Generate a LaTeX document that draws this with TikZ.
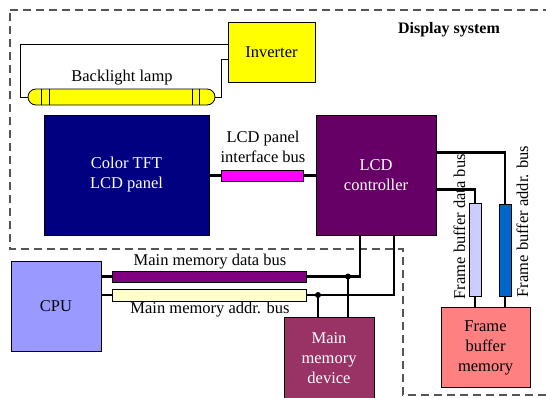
\documentclass[tikz,border=0pt]{standalone}
\usepackage{fontspec}
\setmainfont{Liberation Serif}
\usetikzlibrary{calc}

\definecolor{panelblue}{HTML}{000080}
\definecolor{ctrlpurple}{HTML}{660066}
\definecolor{ifbuscol}{HTML}{FF00FF}
\definecolor{lampcol}{HTML}{FFFF00}
\definecolor{fbdatacol}{HTML}{CCCCFF}
\definecolor{fbaddrcol}{HTML}{0066CC}
\definecolor{fbmemcol}{HTML}{FF8080}
\definecolor{cpucol}{HTML}{9999FF}
\definecolor{mdatacol}{HTML}{800080}
\definecolor{maddrcol}{HTML}{FFFFCC}
\definecolor{mmdevcol}{HTML}{993366}
\definecolor{dashgray}{HTML}{555555}

\begin{document}
\begin{tikzpicture}[x=1pt, y=-1pt,
    blockbox/.style={draw, line width=0.8pt, inner sep=0pt, align=center,
        font=\fontsize{16.5}{20}\selectfont},
    busbar/.style={draw, line width=0.8pt, inner sep=0pt},
    lbl/.style={inner sep=1pt, align=center, font=\fontsize{16.5}{20}\selectfont},
    wire/.style={line width=0.8pt},
    bus/.style={line width=2.6pt}]

    \useasboundingbox (0,0) rectangle (546,397);
    \clip (0,0) rectangle (546,397);

    % display system boundary
    \draw[dashgray, line width=1.2pt, dash pattern=on 8pt off 5pt]
        (10,10) -- (560,10) -- (560,395) -- (403,395) -- (403,249) -- (10,249) -- cycle;
    \node (dsys) [lbl, font=\fontsize{16}{20}\selectfont\bfseries] at (449,30) {Display system};

    % inverter and backlight
    \node (inv) [blockbox, fill=lampcol, minimum width=87pt, minimum height=60pt] at (271.5,52) {Inverter};
    \node (lamp) [draw, line width=0.8pt, fill=lampcol, rounded corners=8pt,
        minimum width=187pt, minimum height=16pt, inner sep=0pt] at (121.5,97) {};
    \foreach \x in {14,22,165,172}
        \draw[wire] ($(lamp.north west)+(\x,0)$) -- ($(lamp.south west)+(\x,0)$);
    \node (lamplbl) [lbl] at (122,78) {Backlight lamp};
    \draw[wire] (lamp.west) -- ++(-7,0) |- ($(inv.north west)+(0,23)$);
    \draw[wire] (lamp.east) -- ++(6,0) |- ($(inv.north west)+(0,38)$);

    % panel and controller
    \node (panel) [blockbox, fill=panelblue, text=white, minimum width=165pt, minimum height=120pt] at (126.5,175) {Color TFT\\LCD panel};
    \node (ctrl) [blockbox, fill=ctrlpurple, text=white, minimum width=120pt, minimum height=120pt] at (376,175) {LCD\\controller};
    \node (ifbus) [busbar, fill=ifbuscol, minimum width=82pt, minimum height=11pt] at (262,175.5) {};
    \node (ifbuslbl) [lbl] at (263,147) {LCD panel\\interface bus};
    \draw[bus] (panel.east |- ifbus.west) -- (ifbus.west);
    \draw[bus] (ifbus.east) -- (ctrl.west |- ifbus.east);

    % frame buffer
    \node (fbdata) [busbar, fill=fbdatacol, minimum width=12pt, minimum height=93pt] at (475,249.5) {};
    \node (fbaddr) [busbar, fill=fbaddrcol, minimum width=12pt, minimum height=92pt] at (505,250) {};
    \node (fbmem) [blockbox, fill=fbmemcol, minimum width=89pt, minimum height=80pt] at (485.5,347.5) {Frame\\buffer\\memory};
    \node (fbdatalbl) [lbl, rotate=90, anchor=south west] at ($(fbdata.south west)+(-2,4)$) {Frame buffer data bus};
    \node (fbaddrlbl) [lbl, rotate=90, anchor=north west] at ($(fbaddr.south east)+(4,2)$) {Frame buffer addr. bus};
    \draw[bus] ($(ctrl.north east)+(0,75)$) -| (fbdata.north);
    \draw[bus] ($(ctrl.north east)+(0,38)$) -| (fbaddr.north);
    \draw[bus] (fbdata.south) -- (fbdata.south |- fbmem.north);
    \draw[bus] (fbaddr.south) -- (fbaddr.south |- fbmem.north);

    % cpu and main memory
    \node (cpu) [blockbox, fill=cpucol, minimum width=90pt, minimum height=90pt] at (56,306) {CPU};
    \node (mdata) [busbar, fill=mdatacol, minimum width=194pt, minimum height=11pt] at (209,276.5) {};
    \node (maddr) [busbar, fill=maddrcol, minimum width=194pt, minimum height=12pt] at (209,295) {};
    \node (mdatalbl) [lbl] at (210,262) {Main memory data bus};
    \node (maddrlbl) [lbl] at (210,310) {Main memory addr. bus};
    \node (mmdev) [blockbox, fill=mmdevcol, text=white, minimum width=90pt, minimum height=83pt] at (329,358.5) {Main\\memory\\device};
    \draw[bus] (cpu.east |- mdata.west) -- (mdata.west);
    \draw[bus] (cpu.east |- maddr.west) -- (maddr.west);
    \draw[bus] (mdata.east) -| ($(ctrl.south)+(-16,0)$);
    \draw[bus] (maddr.east) -| ($(ctrl.south)+(18,0)$);
    \coordinate (dj) at ($(mmdev.north)+(19,0)$);
    \coordinate (aj) at ($(mmdev.north)+(-11,0)$);
    \fill (dj |- mdata.east) circle (3);
    \fill (aj |- maddr.east) circle (3);
    \draw[bus] (dj |- mdata.east) -- (dj);
    \draw[bus] (aj |- maddr.east) -- (aj);
\end{tikzpicture}
\end{document}
